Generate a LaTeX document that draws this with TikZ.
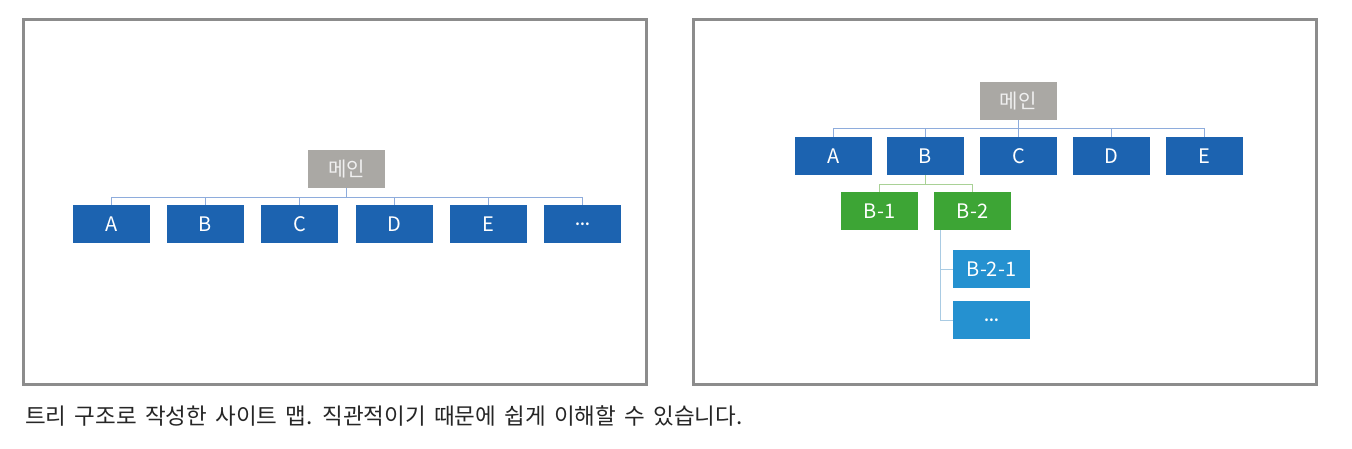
\documentclass[tikz,border=0pt]{standalone}
\usepackage{fontspec}
\setmainfont{Noto Sans CJK KR}
\usetikzlibrary{positioning,calc}

\definecolor{framegray}{HTML}{8C8C8C}
\definecolor{maingray}{HTML}{AAA8A4}
\definecolor{darkblue}{HTML}{1C63B0}
\definecolor{leafgreen}{HTML}{3DA535}
\definecolor{skyblue}{HTML}{2591D0}
\definecolor{busblue}{HTML}{8EACDC}
\definecolor{busgreen}{HTML}{A9D196}
\definecolor{bussky}{HTML}{A9CBE3}

\newcommand{\moredots}{{\fontsize{13}{14}\selectfont\textbf{⋯}}}

\tikzset{
  box/.style={minimum width=77pt, minimum height=38pt, inner sep=0pt, text=white,
    font=\fontsize{20}{22}\selectfont},
  mainbox/.style={box, fill=maingray, text=white!94!black},
  pagebox/.style={box, fill=darkblue},
  subbox/.style={box, fill=leafgreen},
  leafbox/.style={box, fill=skyblue},
  panel/.style={draw=framegray, line width=3pt},
  bus/.style={draw=busblue, line width=1pt}
}

\begin{document}
\begin{tikzpicture}[x=1pt, y=-1pt]
    \useasboundingbox[fill=white] (0,0) rectangle (1352,449);

    % left: flat site map
    \draw[panel] (23,20) rectangle (646,384);
    \node[mainbox] (lmain) at (346.5,169) {메인};
    \node[pagebox] (la) at (111.5,224) {A};
    \node[pagebox] (lb) at (205.5,224) {B};
    \node[pagebox] (lc) at (299.5,224) {C};
    \node[pagebox] (ld) at (394.5,224) {D};
    \node[pagebox] (le) at (488.5,224) {E};
    \node[pagebox] (lmore) at (582.5,224) {\moredots};
    \foreach \n in {la,lb,lc,ld,le,lmore}
      \draw[bus] (lmain.south) -- ++(0,9) -| (\n.north);

    % right: deeper tree
    \draw[panel] (693,20) rectangle (1316,384);
    \node[mainbox] (rmain) at (1018,101) {메인};
    \node[pagebox] (ra) at (833.5,156) {A};
    \node[pagebox] (rb) at (925.5,156) {B};
    \node[pagebox] (rc) at (1018.5,156) {C};
    \node[pagebox] (rd) at (1111.5,156) {D};
    \node[pagebox] (re) at (1204.5,156) {E};
    \foreach \n in {ra,rb,rc,rd,re}
      \draw[bus] (rmain.south) -- ++(0,8) -| (\n.north);

    \node[subbox] (rb1) at (879.5,211) {B-1};
    \node[subbox] (rb2) at (972.5,211) {B-2};
    \foreach \n in {rb1,rb2}
      \draw[bus, draw=busgreen] (rb.south) -- ++(0,9) -| (\n.north);

    \node[leafbox] (rb21) at (991.5,269) {B-2-1};
    \node[leafbox] (rb2more) at (991.5,320) {\moredots};
    \foreach \n in {rb21,rb2more}
      \draw[bus, draw=bussky] ([xshift=7pt]rb2.south west) |- (\n.west);

    % caption
    \node[anchor=base west, inner sep=0pt, text=black!85, font=\fontsize{22.5}{26}\selectfont]
      (caption) at (25,424) {\spaceskip=8.2pt\relax 트리 구조로 작성한 사이트 맵. 직관적이기 때문에 쉽게 이해할 수 있습니다.};
\end{tikzpicture}
\end{document}
